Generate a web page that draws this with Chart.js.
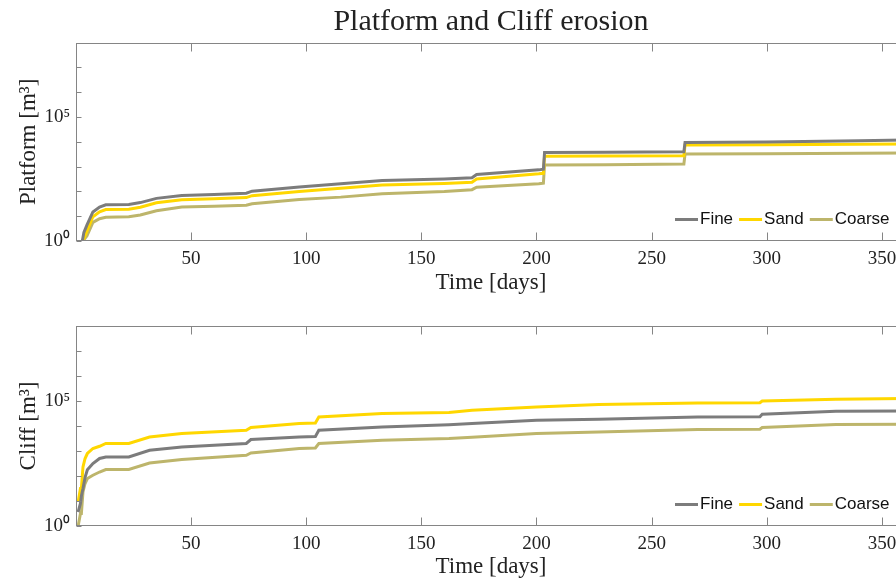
<!DOCTYPE html>
<html>
<head>
<meta charset="utf-8">
<script src="https://cdn.jsdelivr.net/npm/chart.js@4.4.1/dist/chart.umd.min.js"></script>
<style>
  html, body { margin: 0; padding: 0; background: #fff; overflow: hidden; }
  #lienzo { width: 982px; height: 581px; }
  canvas { display: block; }
</style>
</head>
<body>
<div id="lienzo">
  <canvas id="graficaPlataforma" width="982" height="300"></canvas>
  <canvas id="graficaAcantilado" width="982" height="281"></canvas>
</div>
<script>
// valores, en log10(m3)

// panel de plataforma
const diasPlataforma = [2.8, 3.5, 4.8, 7.4, 10.3, 13, 23, 28, 35, 46, 60, 74, 76.5, 97, 115, 133, 160, 172, 174, 201, 203, 203.5, 230, 264, 264.5, 300, 340, 360];
const plataformaFine   = [0, 0.35, 0.64, 1.17, 1.37, 1.46, 1.47, 1.55, 1.72, 1.84, 1.88, 1.93, 2.01, 2.18, 2.31, 2.44, 2.5, 2.55, 2.68, 2.87, 2.9, 3.57, 3.58, 3.6, 3.97, 3.99, 4.04, 4.07];
const plataformaSand   = [0, 0.1, 0.4, 0.98, 1.18, 1.27, 1.28, 1.36, 1.54, 1.66, 1.7, 1.75, 1.83, 2.0, 2.13, 2.26, 2.32, 2.37, 2.5, 2.71, 2.73, 3.42, 3.43, 3.44, 3.87, 3.88, 3.9, 3.91];
const plataformaCoarse = [0, 0.05, 0.2, 0.75, 0.9, 0.96, 0.98, 1.05, 1.22, 1.37, 1.4, 1.44, 1.5, 1.67, 1.77, 1.91, 2.0, 2.07, 2.17, 2.31, 2.33, 3.07, 3.08, 3.11, 3.51, 3.52, 3.54, 3.55];

// panel de acantilado
const diasAcantilado = [1, 2, 2.4, 3.1, 4, 5, 7.4, 10.3, 13, 23, 32, 46, 74, 76, 97, 104, 105.5, 133, 162, 172, 200, 227, 270, 297, 298, 330, 360];
const acantiladoFine   = [0.56, 0.9, 1.2, 1.5, 1.95, 2.25, 2.5, 2.7, 2.76, 2.76, 3.03, 3.16, 3.3, 3.46, 3.56, 3.58, 3.83, 3.96, 4.05, 4.1, 4.23, 4.27, 4.36, 4.37, 4.47, 4.59, 4.6];
const acantiladoSand   = [0.96, 1.5, 1.5, 2.36, 2.7, 2.9, 3.1, 3.19, 3.3, 3.3, 3.56, 3.7, 3.83, 3.94, 4.1, 4.12, 4.36, 4.5, 4.54, 4.63, 4.76, 4.86, 4.92, 4.93, 5.0, 5.07, 5.1];
const acantiladoCoarse = [0, 0.5, 0.5, 1.36, 1.7, 1.9, 2.03, 2.16, 2.26, 2.26, 2.52, 2.66, 2.83, 2.92, 3.1, 3.12, 3.3, 3.43, 3.5, 3.55, 3.7, 3.76, 3.86, 3.87, 3.94, 4.06, 4.07];

const nombresSeries = ["Fine", "Sand", "Coarse"];
const coloresSeries = ["#7c7c7c", "#ffd700", "#bdb56b"];

const ticksX = [50, 100, 150, 200, 250, 300, 350];
const decadasY = [1, 1e1, 1e2, 1e3, 1e4, 1e5, 1e6, 1e7, 1e8];
const etiquetasY = ["10⁰", "", "", "", "", "10⁵", "", "", ""];
const tituloGeneral = "Platform and Cliff erosion";

const colorEjes = "#858585";
const colorTexto = "#222";
const fuenteSerif = '"Liberation Serif", "Times New Roman", serif';

// marco completo + ticks hacia dentro (estilo matlab)
const marcoEjes = {
    id: "marcoEjes",
    afterDraw(chart) {
        const { ctx, chartArea: a, scales: { x, y } } = chart;
        ctx.save();
        ctx.strokeStyle = colorEjes;
        ctx.lineWidth = 1;
        const l = Math.round(a.left) - 0.5, r = Math.round(a.right) - 0.5;
        const t = Math.round(a.top) + 0.5, b = Math.round(a.bottom) - 0.5;
        ctx.strokeRect(l, t, r - l, b - t);
        ctx.beginPath();
        x.ticks.forEach(tk => {
            const px = Math.round(x.getPixelForValue(tk.value)) + 0.5;
            ctx.moveTo(px, b); ctx.lineTo(px, b - 8);
            ctx.moveTo(px, t); ctx.lineTo(px, t + 8);
        });
        y.ticks.forEach(tk => {
            const py = Math.round(y.getPixelForValue(tk.value)) + 0.5;
            ctx.moveTo(l, py); ctx.lineTo(l + 5, py);
            ctx.moveTo(r, py); ctx.lineTo(r - 5, py);
        });
        ctx.stroke();

        // titulo centrado sobre el area de ejes (el title plugin centra sobre todo el canvas)
        if (chart.options.tituloArriba) {
            ctx.font = "30px " + fuenteSerif;
            ctx.fillStyle = colorTexto;
            ctx.textAlign = "center";
            ctx.textBaseline = "middle";
            ctx.fillText(tituloGeneral, (a.left + a.right) / 2, a.top - 20.5);
        }
        ctx.restore();
    }
};

// leyenda dentro del area, abajo a la derecha
const leyendaInterna = {
    id: "leyendaInterna",
    afterDatasetsDraw(chart) {
        const { ctx, chartArea: a } = chart;
        ctx.save();
        ctx.font = '17px "Liberation Sans", Arial, sans-serif';
        ctx.textBaseline = "middle";
        let x = a.right - 230;
        const y = a.bottom - 21.5;
        chart.data.datasets.forEach(ds => {
            ctx.strokeStyle = ds.borderColor;
            ctx.lineWidth = 3;
            ctx.beginPath();
            ctx.moveTo(x, y);
            ctx.lineTo(x + 23, y);
            ctx.stroke();
            x += 25;
            ctx.fillStyle = "#111";
            ctx.fillText(ds.label, x, y);
            x += ctx.measureText(ds.label).width + 6;
        });
        ctx.restore();
    }
};

function crearGrafica(id, dias, series, tituloY, conTitulo, margenArriba, altoEjeX, paddingTituloX) {
    const puntos = serie => dias.map((d, i) => ({ x: d, y: Math.pow(10, serie[i]) }));

    return new Chart(document.getElementById(id), {
        type: "line",
        data: {
            datasets: series.map((s, i) => ({
                label: nombresSeries[i],
                data: puntos(s),
                borderColor: coloresSeries[i],
                backgroundColor: coloresSeries[i],
                borderWidth: 3,
                pointRadius: 0,
                tension: 0,
                fill: false
            }))
        },
        options: {
            responsive: false,
            animation: false,
            events: [],
            tituloArriba: conTitulo,
            layout: { padding: { left: 0, right: 77, top: margenArriba, bottom: 0 } },
            plugins: {
                legend: { display: false },
                tooltip: { enabled: false },
                title: { display: false }
            },
            scales: {
                x: {
                    type: "linear",
                    min: 0.5,
                    max: 360,
                    afterBuildTicks: s => { s.ticks = ticksX.map(v => ({ value: v })); },
                    afterFit: s => { s.height = altoEjeX; },
                    grid: { display: false, drawTicks: false },
                    border: { display: false },
                    ticks: {
                        autoSkip: false,
                        maxRotation: 0,
                        padding: 7,
                        color: colorTexto,
                        font: { family: fuenteSerif, size: 19 }
                    },
                    title: {
                        display: true,
                        text: "Time [days]",
                        color: colorTexto,
                        font: { family: fuenteSerif, size: 23 },
                        padding: { top: 0, bottom: paddingTituloX }
                    }
                },
                y: {
                    type: "logarithmic",
                    min: 1,
                    max: 1e8,
                    afterBuildTicks: s => { s.ticks = decadasY.map(v => ({ value: v })); },
                    afterFit: s => { s.width = 77; },
                    grid: { display: false, drawTicks: false },
                    border: { display: false },
                    ticks: {
                        autoSkip: false,
                        padding: 7,
                        color: colorTexto,
                        font: { family: fuenteSerif, size: 19 },
                        callback: v => etiquetasY[decadasY.indexOf(v)] ?? ""
                    },
                    title: {
                        display: true,
                        text: tituloY,
                        color: colorTexto,
                        font: { family: fuenteSerif, size: 23 },
                        padding: { top: 15, bottom: 0 }
                    }
                }
            }
        },
        plugins: [marcoEjes, leyendaInterna]
    });
}

crearGrafica("graficaPlataforma", diasPlataforma,
    [plataformaFine, plataformaSand, plataformaCoarse], "Platform [m³]", true, 42.7, 59, 3);
crearGrafica("graficaAcantilado", diasAcantilado,
    [acantiladoFine, acantiladoSand, acantiladoCoarse], "Cliff [m³]", false, 26, 55, 0);
</script>
</body>
</html>
